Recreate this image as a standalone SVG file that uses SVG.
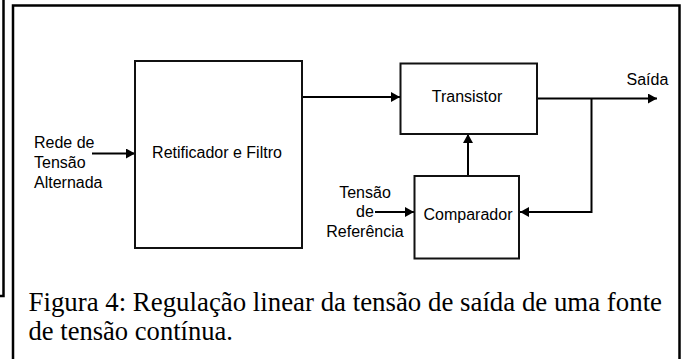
<svg xmlns="http://www.w3.org/2000/svg" width="683" height="359" viewBox="0 0 683 359">
<style>
.box{fill:#fff;stroke:#111;stroke-width:2}
.con{fill:none;stroke:#000;stroke-width:2}
.lbl{font-family:"Liberation Sans",Arial,sans-serif;font-size:16px;fill:#000}
.cap{font-family:"Liberation Serif","Times New Roman",serif;font-size:26.5px;fill:#000}
</style>
<defs>
<marker id="ah" markerUnits="userSpaceOnUse" markerWidth="9" markerHeight="10" refX="9" refY="5" orient="auto">
<path d="M0,0 L9,5 L0,10 Z" fill="#000"/>
</marker>
</defs>
<rect width="683" height="359" fill="#fff"/>
<g id="frames">
<path d="M3.5,0 V296 H0" fill="none" stroke="#000" stroke-width="2.5"/>
<path d="M13,370 V5.5 H679.5 V370" fill="none" stroke="#000" stroke-width="2.5"/>
</g>
<g id="connectors">
<path class="con" d="M92,153.5 H135" marker-end="url(#ah)"/>
<path class="con" d="M302,97 H400" marker-end="url(#ah)"/>
<path class="con" d="M537,98.5 H657" marker-end="url(#ah)"/>
<path class="con" d="M591.5,98.5 V212 H520" marker-end="url(#ah)"/>
<path class="con" d="M468,176 V134" marker-end="url(#ah)"/>
<path class="con" d="M375,212 H414" marker-end="url(#ah)"/>
</g>
<g id="retificador">
<rect class="box" x="135" y="61" width="167" height="187"/>
<text class="lbl" x="217" y="158" text-anchor="middle">Retificador e Filtro</text>
</g>
<g id="transistor">
<rect class="box" x="400.5" y="63.5" width="136.5" height="70.5"/>
<text class="lbl" x="467" y="101.5" text-anchor="middle">Transistor</text>
</g>
<g id="comparador">
<rect class="box" x="414.5" y="176" width="104.5" height="82.5"/>
<text class="lbl" x="468" y="220" text-anchor="middle">Comparador</text>
</g>
<g id="rede">
<text class="lbl" x="34" y="148">Rede de</text>
<text class="lbl" x="34" y="168">Tensão</text>
<text class="lbl" x="34" y="188">Alternada</text>
</g>
<g id="referencia">
<text class="lbl" x="365" y="198" text-anchor="middle">Tensão</text>
<text class="lbl" x="365" y="217" text-anchor="middle">de</text>
<text class="lbl" x="365" y="236.5" text-anchor="middle">Referência</text>
</g>
<g id="saida">
<text class="lbl" x="626.5" y="85">Saída</text>
</g>
<g id="caption">
<text class="cap" x="28.5" y="311" textLength="633.5" lengthAdjust="spacingAndGlyphs">Figura 4: Regulação linear da tensão de saída de uma fonte</text>
<text class="cap" x="28.5" y="340" textLength="204.5" lengthAdjust="spacingAndGlyphs">de tensão contínua.</text>
</g>
</svg>
